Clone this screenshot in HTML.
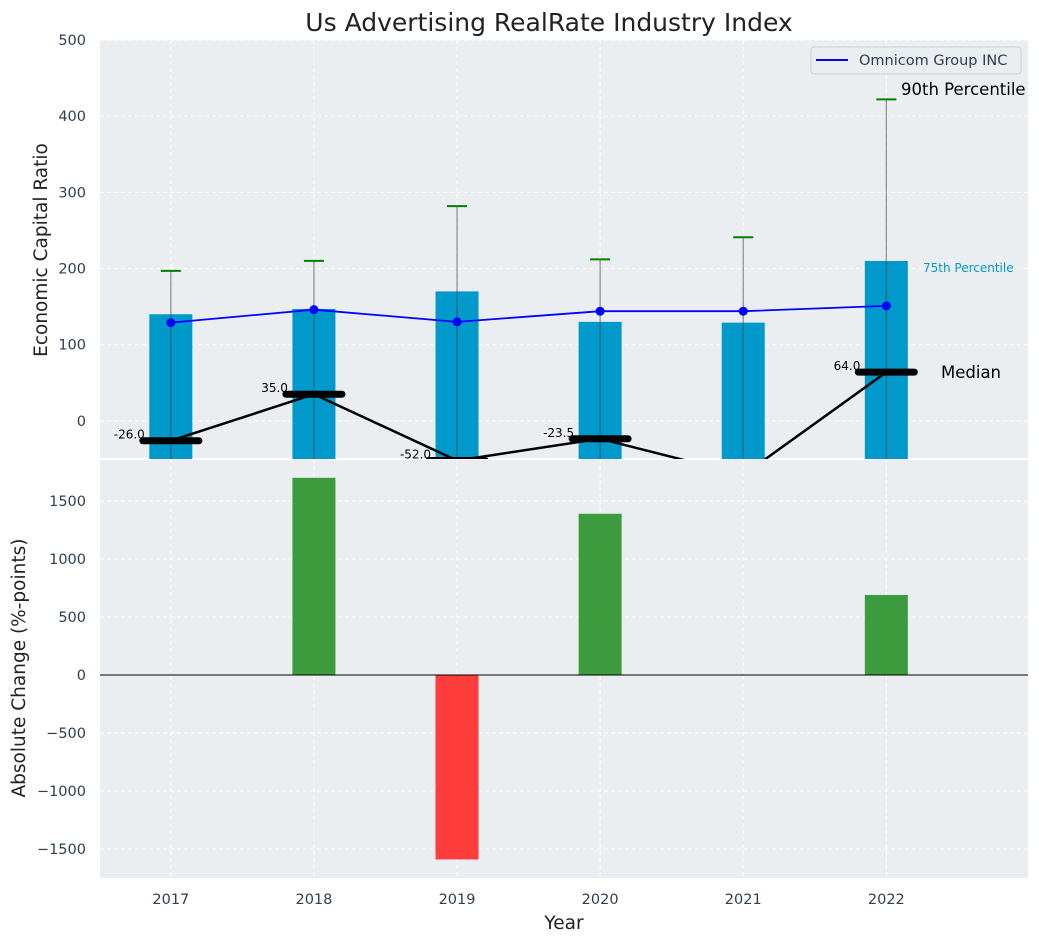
<!DOCTYPE html>
<html><head><meta charset="utf-8"><style>
body{margin:0;background:#fff;font-family:"Liberation Sans","DejaVu Sans",sans-serif}
svg text{font-family:"DejaVu Sans","Liberation Sans",sans-serif}
</style></head><body>
<svg id="c" width="1039" height="942" xmlns="http://www.w3.org/2000/svg"></svg>
<script>
const years=[2017,2018,2019,2020,2021,2022];
const p75=[140,147,170,130,129,210];
const p90=[197,210,282,212,241,422];
const company=[129,146,130,144,144,151];
const median=[-26,35,-52,-23.5,-71,64];
const medianLabels=["-26.0","35.0","-52.0","-23.5","",  "64.0"];
const change=[0,1700,-1590,1390,0,690];
const topTicks=[0,100,200,300,400,500];
const botTicks=[-1500,-1000,-500,0,500,1000,1500];

const NS="http://www.w3.org/2000/svg";
const svg=document.getElementById('c');
const L=100,R=1028,T1=40,B1=459,T2=459,B2=878;
const x=v=>L+(v-2016.505)/(2022.99-2016.505)*(R-L);
const y1=v=>T1+(500-v)/(500+50)*(B1-T1);
const y2=v=>675-v*0.116;
function el(tag,a,parent,name){const e=document.createElementNS(NS,tag);for(const k in a)e.setAttribute(k,a[k]);(parent||svg).appendChild(e);


return e;}
const fmt=v=>String(v).replace('-','\u2212');
const defs=el('defs',{},svg,'defs');
const c1=el('clipPath',{id:'cp1'},defs,'clip-top');el('rect',{x:L,y:T1,width:R-L,height:B1-T1},c1,'clip-rect');
const c2=el('clipPath',{id:'cp2'},defs,'clip-bottom');el('rect',{x:L,y:T2,width:R-L,height:B2-T2},c2,'clip-rect');
el('rect',{x:L,y:T1,width:R-L,height:B1-T1,fill:'#eaeef0'},svg,'top-plot-bg');
el('rect',{x:L,y:T2+1,width:R-L,height:B2-T2-1,fill:'#eaeef0'},svg,'bottom-plot-bg');
el('line',{x1:L,x2:R,y1:459,y2:459,stroke:'#fff','stroke-width':2},svg,'axes-separator');
years.forEach(v=>{
 el('line',{x1:x(v),x2:x(v),y1:T1,y2:B1,stroke:'#fff','stroke-dasharray':'4,3'},svg,'top-x-grid');
 el('line',{x1:x(v),x2:x(v),y1:T2,y2:B2,stroke:'#fff','stroke-dasharray':'4,3'},svg,'bottom-x-grid');
 const t=el('text',{x:x(v),y:904,'text-anchor':'middle','font-size':14.5,fill:'#2e3e50'},svg,'x-tick-label');t.textContent=v;
});
topTicks.forEach(v=>{
 el('line',{x1:L,x2:R,y1:y1(v),y2:y1(v),stroke:'#fff','stroke-dasharray':'4,3'},svg,'top-y-grid');
 const t=el('text',{x:L-14,y:y1(v)+5,'text-anchor':'end','font-size':14.5,fill:'#2e3e50'},svg,'top-y-tick-label');t.textContent=fmt(v);
});
botTicks.forEach(v=>{
 el('line',{x1:L,x2:R,y1:y2(v),y2:y2(v),stroke:'#fff','stroke-dasharray':'4,3'},svg,'bottom-y-grid');
 const t=el('text',{x:L-14,y:y2(v)+5,'text-anchor':'end','font-size':14.5,fill:'#2e3e50'},svg,'bottom-y-tick-label');t.textContent=fmt(v);
});
const g1=el('g',{'clip-path':'url(#cp1)'},svg,'top-plot');
const bw=43;
years.forEach((v,i)=>{
 el('rect',{x:x(v)-bw/2,y:y1(p75[i]),width:bw,height:B1-y1(p75[i])+5,fill:'#0099cc'},g1,'p75-bar');
 el('line',{x1:x(v),x2:x(v),y1:y1(p90[i]),y2:B1+5,stroke:'#444','stroke-opacity':0.6,'stroke-width':1.2},g1,'whisker');
 el('line',{x1:x(v)-10,x2:x(v)+10,y1:y1(p90[i]),y2:y1(p90[i]),stroke:'green','stroke-width':2},g1,'p90-cap');
});
el('polyline',{points:years.map((v,i)=>x(v)+','+y1(median[i])).join(' '),fill:'none',stroke:'#000','stroke-width':2.5},g1,'median-line');
years.forEach((v,i)=>{
 el('line',{x1:x(v)-28,x2:x(v)+28,y1:y1(median[i]),y2:y1(median[i]),stroke:'#000','stroke-width':7,'stroke-linecap':'round'},g1,'median-marker');
 if(medianLabels[i]){const t=el('text',{x:x(v)-26,y:y1(median[i])-2,'text-anchor':'end','font-size':12,fill:'#000'},g1,'median-value-label');t.textContent=medianLabels[i];}
});
el('polyline',{points:years.map((v,i)=>x(v)+','+y1(company[i])).join(' '),fill:'none',stroke:'#0000ff','stroke-width':1.8},g1,'company-line');
years.forEach((v,i)=>el('circle',{cx:x(v),cy:y1(company[i]),r:4.5,fill:'#0000ff'},g1,'company-point'));
let t;
t=el('text',{x:901,y:95,'font-size':16.5,fill:'#000'},svg,'p90-label');t.textContent='90th Percentile';
t=el('text',{x:923,y:272,'font-size':12,fill:'#0099cc'},svg,'p75-label');t.textContent='75th Percentile';
t=el('text',{x:941,y:378,'font-size':16.5,fill:'#000'},svg,'median-label');t.textContent='Median';
const lg=el('g',{},svg,'legend');
el('rect',{x:811,y:47,width:210,height:27,rx:3,fill:'#eaeef0',stroke:'#ccc'},lg,'legend-box');
el('line',{x1:816,x2:848,y1:60,y2:60,stroke:'#0000ff','stroke-width':2},lg,'legend-line');
t=el('text',{x:859,y:65,'font-size':14.5,fill:'#2e3e50'},lg,'legend-text');t.textContent='Omnicom Group INC';
const g2=el('g',{'clip-path':'url(#cp2)'},svg,'bottom-plot');
years.forEach((v,i)=>{
 if(change[i]===0)return;
 const a=y2(Math.max(change[i],0)),b=y2(Math.min(change[i],0));
 el('rect',{x:x(v)-bw/2,y:a,width:bw,height:b-a,fill:change[i]>0?'#3c9b3c':'#ff3c3c'},g2,'change-bar');
});
el('line',{x1:L,x2:R,y1:y2(0),y2:y2(0),stroke:'#000','stroke-width':1},svg,'zero-line');
t=el('text',{x:549,y:31,'text-anchor':'middle','font-size':25,fill:'#222'},svg,'chart-title');t.textContent='Us Advertising RealRate Industry Index';
t=el('text',{x:564,y:929,'text-anchor':'middle','font-size':18.5,fill:'#222'},svg,'x-axis-title');t.textContent='Year';
t=el('text',{x:47,y:250,'text-anchor':'middle','font-size':18.5,fill:'#222',transform:'rotate(-90 47 250)'},svg,'top-y-axis-title');t.textContent='Economic Capital Ratio';
t=el('text',{x:25,y:668,'text-anchor':'middle','font-size':18.5,fill:'#222',transform:'rotate(-90 25 668)'},svg,'bottom-y-axis-title');t.textContent='Absolute Change (%-points)';
</script>
</body></html>
